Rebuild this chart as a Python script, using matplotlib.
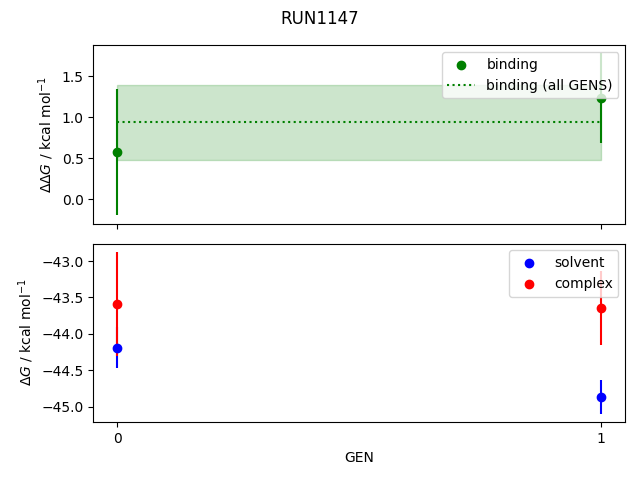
import numpy as np
import matplotlib
matplotlib.use("Agg")
import matplotlib.pyplot as plt

# values
gens = [0, 1]
binding = [0.57, 1.23]
binding_err = [0.77, 0.55]
binding_all = 0.935
binding_all_err = 0.46

solvent = [-44.19, -44.87]
solvent_err = [0.28, 0.23]
complex_ = [-43.59, -43.64]
complex_err = [0.72, 0.51]

fig, axes = plt.subplots(2, sharex=True, figsize=(6.4, 4.8), dpi=100)
fig.suptitle('RUN1147')

ax = axes[0]
ax.scatter(gens, binding, color='green', label='binding', zorder=3)
ax.errorbar(gens, binding, yerr=binding_err, color='green', linestyle='none')
ax.hlines(binding_all, gens[0], gens[-1], color='green', linestyles='dotted',
          label='binding (all GENS)')
ax.fill_between(gens, binding_all - binding_all_err,
                binding_all + binding_all_err, color='green', alpha=0.2)
ax.set_ylabel(r'$\Delta\Delta G$ / kcal mol$^{-1}$')
ax.legend(loc='upper right')

ax = axes[1]
ax.scatter(gens, solvent, color='blue', label='solvent', zorder=3)
ax.errorbar(gens, solvent, yerr=solvent_err, color='blue', linestyle='none')
ax.scatter(gens, complex_, color='red', label='complex', zorder=3)
ax.errorbar(gens, complex_, yerr=complex_err, color='red', linestyle='none')
ax.set_ylabel(r'$\Delta G$ / kcal mol$^{-1}$')
ax.set_xlabel('GEN')
ax.set_xticks(gens)
ax.legend(loc='upper right')

# layout matched to the reference frame positions
fig.subplots_adjust(left=0.1458, right=0.977, top=0.906, bottom=0.121,
                    hspace=0.112)
plt.savefig('out.png')
